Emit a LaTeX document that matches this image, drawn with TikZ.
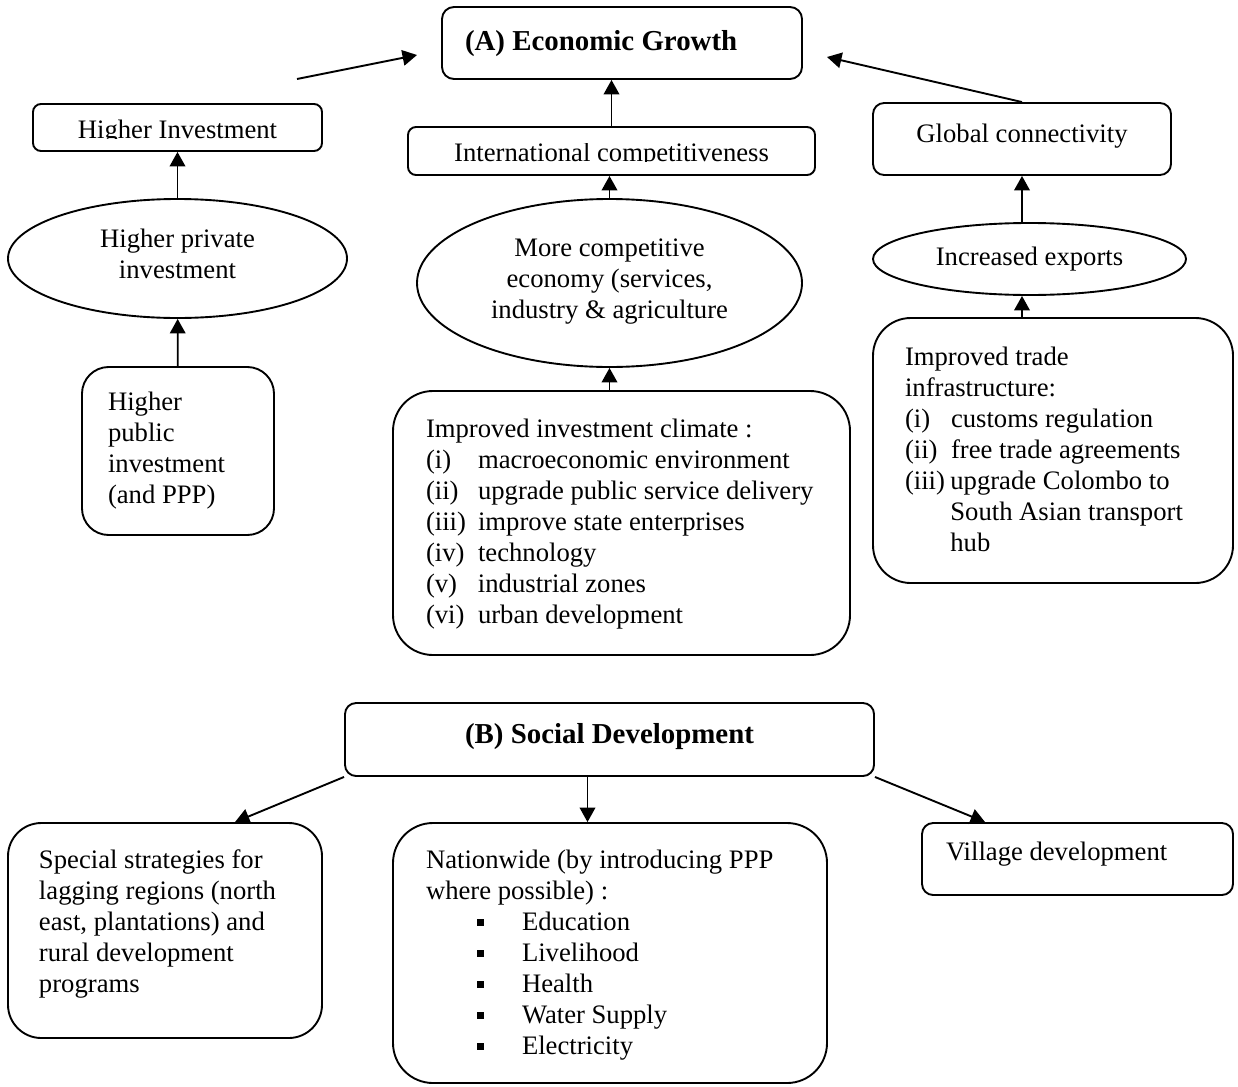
\documentclass[tikz,border=0pt]{standalone}
\usepackage{fontspec}
\setmainfont{Liberation Serif}
\usepackage{trimclip}
\usetikzlibrary{arrows.meta,shapes.geometric}

\newcommand\lowstrut[1]{\rule[-#1]{0pt}{#1}}
\newcommand\cutdesc[1]{\clipbox{0pt {\depth} 0pt 0pt}{#1}}
\newcommand\sqbullet{\rule[2pt]{3.1pt}{3pt}}

\tikzset{
  box/.style={draw, line width=0.85pt, rounded corners=#1, inner sep=0pt,
    font=\fontsize{12}{13.95}\selectfont, execute at begin node=\rule{0pt}{9.8pt}},
  box/.default=3.6pt,
  oval/.style={draw, ellipse, line width=0.85pt, inner sep=0pt, align=flush center,
    font=\fontsize{12}{13.95}\selectfont, execute at begin node=\rule{0pt}{9.8pt},
    execute at end node=\lowstrut{4.2pt}},
  gap/.style={execute at end node=\lowstrut{#1}},
  flow/.style={line width=0.85pt, -{Triangle[length=6.5pt,width=7pt]}},
  title/.style={font=\fontsize{13}{15}\selectfont\bfseries}
}

\begin{document}
\begin{tikzpicture}[x=0.45pt, y=-0.45pt]
  \useasboundingbox (0,0) rectangle (1238,1086);

  % (A) economic growth
  \node[box=5.4pt, title, gap=1.7pt, align=flush left, text width=141.3pt, inner xsep=10.35pt,
    minimum height=32.4pt] (econ) at (622,43) {(A) Economic Growth};
  \node[box, minimum width=130.05pt, minimum height=21.15pt] (hinv) at (177.5,127.5)
    {\cutdesc{Higher Investment}};
  \node[box, minimum width=183.15pt, minimum height=21.6pt] (intl) at (611.5,151)
    {\cutdesc{International competitiveness}};
  \node[box=5pt, gap=7.1pt, minimum width=134.1pt, minimum height=32.4pt] (glob) at (1022,139)
    {Global connectivity};

  \node[oval, minimum width=152.55pt, minimum height=53.55pt] (hpriv) at (177.5,258.5)
    {Higher private\\investment};
  \node[oval, minimum width=173.25pt, minimum height=75.6pt] (comp) at (609.5,283)
    {More competitive\\economy (services,\\industry \& agriculture};
  \node[oval, minimum width=140.85pt, minimum height=32.4pt] (expo) at (1029.5,259)
    {Increased exports};

  \node[box=12pt, gap=4.8pt, align=flush left, text width=63pt, inner xsep=11.7pt,
    minimum height=75.6pt] (hpub) at (178,451) {Higher\\public\\investment\\(and PPP)};
  \node[box=18pt, gap=3.5pt, align=flush left, text width=175.95pt, inner xsep=14.85pt,
    minimum height=118.8pt] (clim) at (621.5,523) {Improved investment climate :\\
    \makebox[23.4pt][l]{(i)}macroeconomic environment\\
    \makebox[23.4pt][l]{(ii)}upgrade public service delivery\\
    \makebox[23.4pt][l]{(iii)}improve state enterprises\\
    \makebox[23.4pt][l]{(iv)}technology\\
    \makebox[23.4pt][l]{(v)}industrial zones\\
    \makebox[23.4pt][l]{(vi)}urban development};
  \node[box=17pt, gap=3pt, align=flush left, text width=133.2pt, inner xsep=14.4pt,
    minimum height=119.25pt] (trade) at (1053,450.5) {Improved trade\\infrastructure:\\
    \makebox[20.7pt][l]{(i)}customs regulation\\
    \makebox[20.7pt][l]{(ii)}free trade agreements\\
    \makebox[20.4pt][l]{(iii)}upgrade Colombo to\\
    \hspace*{20.4pt}South Asian transport\\
    \hspace*{20.4pt}hub};

  \coordinate (invtail) at (297,79);
  \coordinate (invhead) at (417,55);
  \coordinate (globhead) at (827,57);
  \draw[flow] (invtail) -- (invhead);
  \draw[flow] (glob.north) -- (globhead);
  \draw[flow] (intl.north) -- (intl.north |- econ.south);
  \draw[flow] (hpriv) -- (hinv);
  \draw[flow] (hpub) -- (hpriv);
  \draw[flow] (comp.north) -- (comp.north |- intl.south);
  \draw[flow] (comp.south |- clim.north) -- (comp.south);
  \draw[flow] (glob.south |- expo.north) -- (glob.south);
  \draw[flow] (glob.south |- trade.north) -- (glob.south |- expo.south);

  % (B) social development
  \node[box=5pt, title, gap=6.6pt, minimum width=238.05pt, minimum height=32.85pt] (soc)
    at (609.5,739.5) {(B) Social Development};
  \node[box=15pt, gap=10.2pt, align=flush left, text width=113.4pt, inner xsep=13.95pt,
    minimum height=96.75pt] (spec) at (165,930.5)
    {Special strategies for\\lagging regions (north\\east, plantations) and\\rural development\\programs};
  \node[box=18pt, gap=0.8pt, align=flush left, text width=165.6pt, inner xsep=14.85pt,
    minimum height=117pt] (natw) at (610,953) {Nationwide (by introducing PPP\\where possible) :\\
    \hspace*{23pt}\makebox[20.2pt][l]{\sqbullet}Education\\
    \hspace*{23pt}\makebox[20.2pt][l]{\sqbullet}Livelihood\\
    \hspace*{23pt}\makebox[20.2pt][l]{\sqbullet}Health\\
    \hspace*{23pt}\makebox[20.2pt][l]{\sqbullet}Water Supply\\
    \hspace*{23pt}\makebox[20.2pt][l]{\sqbullet}Electricity};
  \node[box=5pt, gap=8.9pt, align=flush left, text width=118.35pt, inner xsep=10.8pt,
    minimum height=32.4pt] (vill) at (1077.5,859) {Village development};

  \draw[flow] (soc.south west) -- ([xshift=31.5pt]spec.north);
  \draw[flow] ([xshift=-9.9pt]soc.south) -- ([xshift=-9.9pt]soc.south |- natw.north);
  \draw[flow] (soc.south east) -- ([xshift=-41.6pt]vill.north);
\end{tikzpicture}
\end{document}
